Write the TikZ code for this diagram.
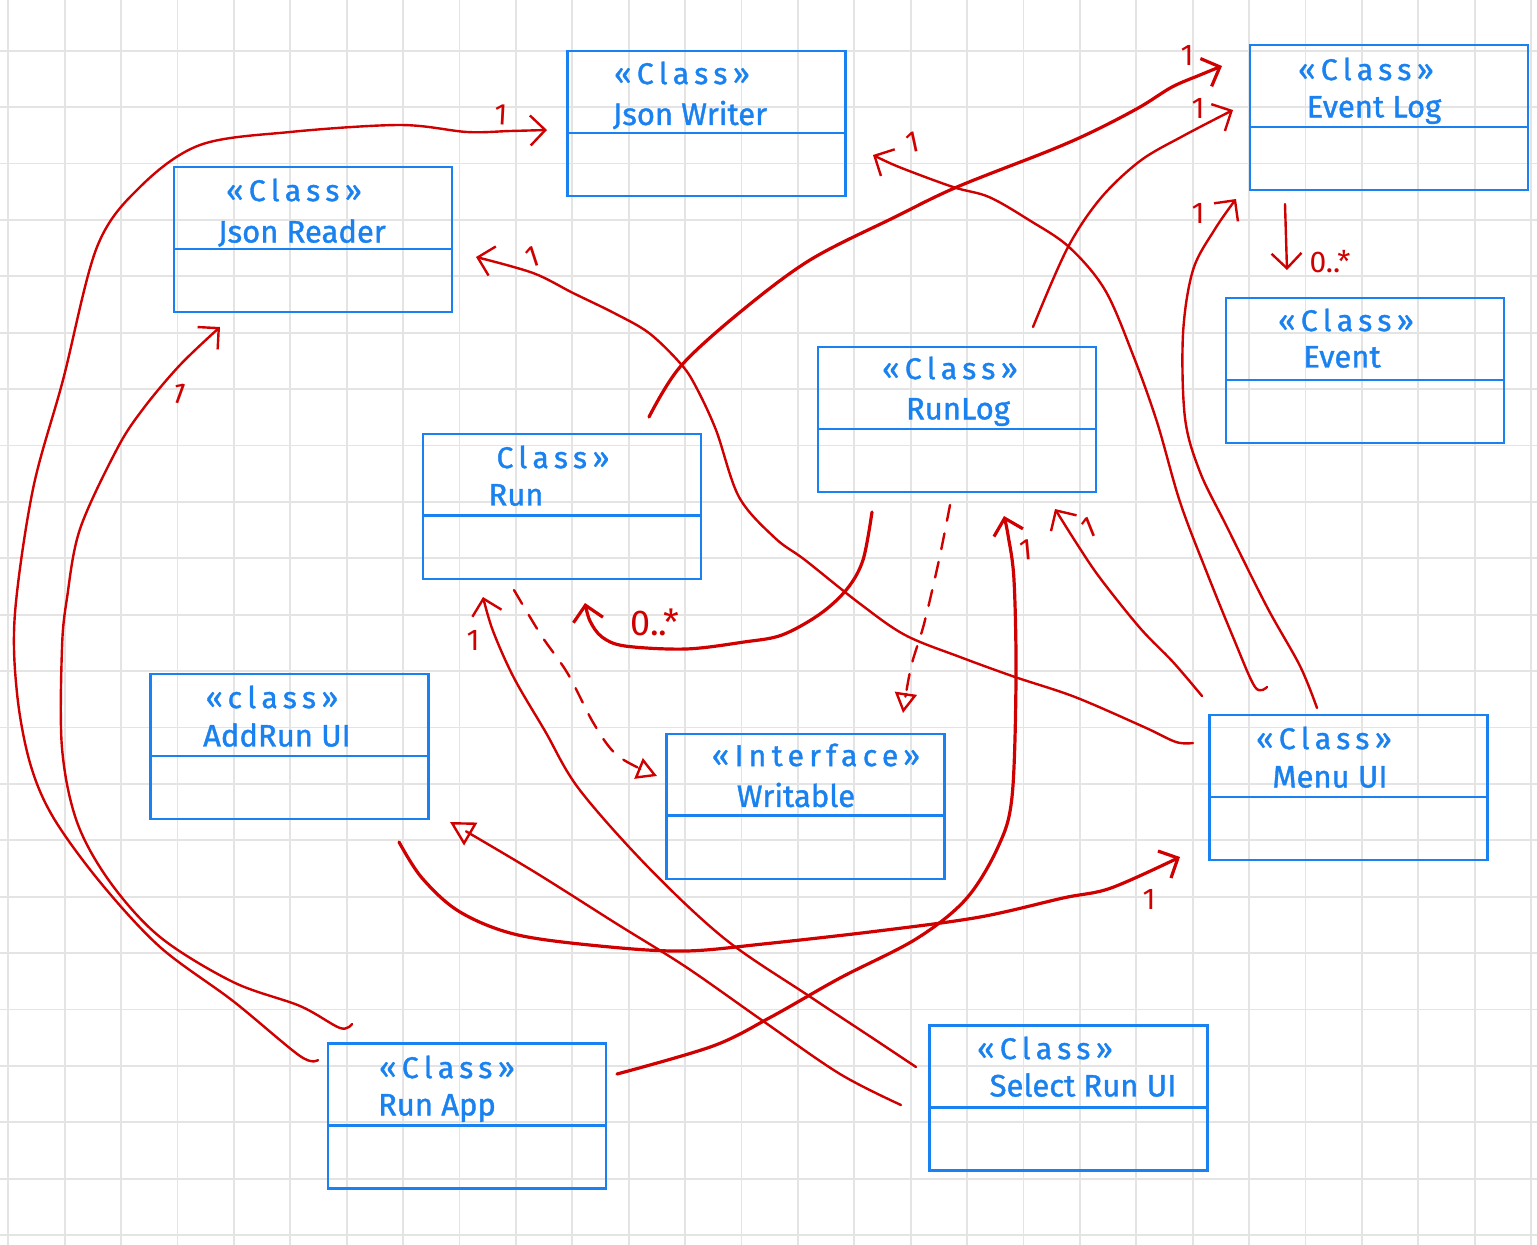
\documentclass[tikz,border=0pt]{standalone}
\usepackage{fontspec}
\setmainfont{Fira Sans}
\newfontfamily\namefont[FakeBold=1.2]{Fira Sans}
\newfontfamily\stereofont[LetterSpace=18,FakeBold=1.2]{Fira Sans}
\usetikzlibrary{arrows.meta}
\definecolor{inkblue}{RGB}{25,130,240}
\definecolor{inkred}{RGB}{208,0,0}
\definecolor{gridgray}{RGB}{228,228,228}
\tikzset{
  umlbox/.style={draw=inkblue, line width=2.4pt, minimum width=278pt, minimum height=145pt, inner sep=0pt},
  divider/.style={draw=inkblue, line width=2.4pt},
  stereo/.style={text=inkblue, font=\stereofont\fontsize{30}{34}\selectfont, inner sep=0pt},
  cname/.style={text=inkblue, font=\namefont\fontsize{31}{36}\selectfont, inner sep=0pt},
  link/.style={draw=inkred, line width=2.4pt, line cap=round, line join=round},
  heavy/.style={link, line width=3.2pt},
  barb/.style={-{Straight Barb[length=15pt,width=30pt]}},
  realize/.style={link, dash pattern=on 16pt off 13pt, -{Triangle[open,length=20pt,width=22pt]}},
  general/.style={link, -{Triangle[open,length=24pt,width=26pt]}},
  one/.style={text=inkred, font=\fontsize{30}{36}\selectfont, inner sep=0pt},
  mult/.style={text=inkred, font=\fontsize{30}{36}\selectfont, inner sep=0pt},
  gridline/.style={draw=gridgray, line width=1.8pt}
}
\begin{document}
\begin{tikzpicture}[x=1pt,y=-1pt]
\useasboundingbox (0,0) rectangle (1537,1245);
\fill[white] (0,0) rectangle (1537,1245);
\foreach \i in {0,...,27} \draw[gridline] ({8.3+56.4*\i},0) -- ({8.3+56.4*\i},1245);
\foreach \j in {0,...,21} \draw[gridline] (0,{50.7+56.4*\j}) -- (1537,{50.7+56.4*\j});

% ---------- class boxes ----------
\node[umlbox] (jw)  at (706.5,123.4) {};
\node[umlbox] (jr)  at (313,239.5) {};
\node[umlbox] (el)  at (1388.8,117.5) {};
\node[umlbox] (ev)  at (1365,370.5) {};
\node[umlbox] (rl)  at (957,419.7) {};
\node[umlbox] (run) at (561.7,506.2) {};
\node[umlbox] (ar)  at (289.3,746.5) {};
\node[umlbox] (wr)  at (805.3,806.3) {};
\node[umlbox] (mu)  at (1348.5,787.5) {};
\node[umlbox] (ra)  at (467.2,1116) {};
\node[umlbox] (sr)  at (1068.5,1098) {};
\foreach \b in {jw,jr,el,ev,rl,run,ar,wr,mu,ra,sr}
  \draw[divider] ([yshift=-83pt]\b.north west) -- ([yshift=-83pt]\b.north east);

% ---------- texts ----------
\node[stereo] (jwS) at (682,73) {«Class»};
\node[cname]  (jwN) at (690,115) {Json Writer};
\node[stereo] (jrS) at (294,190) {«Class»};
\node[cname]  (jrN) at (302,233) {Json Reader};
\node[stereo] (elS) at (1366,69) {«Class»};
\node[cname]  (elN) at (1374,110) {Event Log};
\node[stereo] (evS) at (1346,320) {«Class»};
\node[cname]  (evN) at (1342,357) {Event};
\node[stereo] (rlS) at (950,368) {«Class»};
\node[cname]  (rlN) at (958,412) {RunLog};
\node[stereo] (runS) at (553,457) {Class»};
\node[cname]  (runN) at (516,495) {Run};
\node[stereo] (arS) at (272,697) {«class»};
\node[cname]  (arN) at (277,735) {AddRun UI};
\node[stereo] (wrS) at (816,755) {«Interface»};
\node[cname]  (wrN) at (796,795) {Writable};
\node[stereo] (muS) at (1324,738) {«Class»};
\node[cname]  (muN) at (1330,777) {Menu UI};
\node[stereo] (raS) at (447,1067) {«Class»};
\node[cname]  (raN) at (437,1108) {Run App};
\node[stereo] (srS) at (1045,1048) {«Class»};
\node[cname]  (srN) at (1083,1085) {Select Run UI};

% ---------- connector end points ----------
\coordinate (raJwS) at (318,1060);  \coordinate (raJwE) at (547,130);
\coordinate (raJrS) at (352,1024);  \coordinate (raJrE) at (220,327);
\coordinate (arMuS) at (399,842);   \coordinate (arMuE) at (1180,857);
\coordinate (raRlS) at (617,1074);  \coordinate (raRlE) at (1004,516);
\coordinate (srRunS) at (916,1067); \coordinate (srRunE) at (483,597);
\coordinate (srArS) at (901,1105);  \coordinate (srArE) at (450,822);
\coordinate (runWrS) at (514,590);  \coordinate (runWrE) at (657,776);
\coordinate (rlWrS) at (950,505);   \coordinate (rlWrE) at (903,713);
\coordinate (rlRunS) at (872,512);  \coordinate (rlRunE) at (585,603);
\coordinate (runElS) at (649,417);  \coordinate (runElE) at (1222,66);
\coordinate (rlElS) at (1033,327);  \coordinate (rlElE) at (1233,110);
\coordinate (muElS) at (1317,708);  \coordinate (muElE) at (1236,199);
\coordinate (muJwS) at (1267,687);  \coordinate (muJwE) at (873,155);
\coordinate (muJrS) at (1193,743);  \coordinate (muJrE) at (476,257);
\coordinate (muRlS) at (1202,696);  \coordinate (muRlE) at (1055,509);
\coordinate (elEvS) at (1285,204);  \coordinate (elEvE) at (1287,270);

% ---------- connectors ----------
% Run App -> Json Writer
\draw[link,barb] plot[smooth,tension=0.55] coordinates {(raJwS) (300,1056) (233,1001) (160,947) (100,882) (53,817) (30,763) (17,693) (15,613) (33,489) (63,380) (97,247) (140,187) (200,145) (290,132) (400,125) (467,132) (510,131) (raJwE)};
% Run App -> Json Reader
\draw[link,barb] plot[smooth,tension=0.55] coordinates {(raJrS) (340,1028) (300,1006) (233,982) (160,937) (110,882) (77,822) (62,748) (62,648) (67,598) (80,529) (117,449) (143,409) (180,365) (raJrE)};
% Add Run UI -> Menu UI
\draw[heavy,barb] plot[smooth,tension=0.55] coordinates {(arMuS) (422,878) (460,912) (518,935) (610,947) (686,951) (763,944) (878,931) (980,917) (1063,898) (1111,888) (arMuE)};
% Run App -> Run Log
\draw[heavy,barb] plot[smooth,tension=0.55] coordinates {(raRlS) (713,1046) (771,1017) (840,978) (916,939) (966,899) (998,847) (1012,797) (1016,680) (1014,580) (1008,535) (raRlE)};
% Select Run UI -> Run
\draw[link,barb] plot[smooth,tension=0.55] coordinates {(srRunS) (874,1039) (809,996) (725,939) (648,867) (579,789) (545,731) (514,678) (493,631) (srRunE)};
% Select Run UI -> Add Run UI (generalization)
\draw[general] plot[smooth,tension=0.55] coordinates {(srArS) (840,1074) (763,1021) (686,967) (617,924) (533,871) (srArE)};
% Run ..> Writable
\draw[realize] plot[smooth,tension=0.55] coordinates {(runWrS) (541,635) (568,674) (594,724) (618,756) (runWrE)};
% Run Log ..> Writable
\draw[realize] plot[smooth,tension=0.55] coordinates {(rlWrS) (939,560) (924,624) (911,667) (rlWrE)};
% Run Log -> Run (0..*)
\draw[heavy,barb] plot[smooth,tension=0.55] coordinates {(rlRunS) (863,560) (847,589) (820,614) (782,635) (744,642) (686,649) (625,646) (602,637) (590,621) (rlRunE)};
% Run -> Event Log
\draw[heavy,barb] plot[smooth,tension=0.55] coordinates {(runElS) (680,367) (739,313) (810,260) (895,217) (957,187) (1051,150) (1096,130) (1140,107) (1172,87) (1200,75) (runElE)};
% Run Log -> Event Log
\draw[link,barb] plot[smooth,tension=0.55] coordinates {(rlElS) (1067,249) (1100,199) (1140,161) (1183,136) (rlElE)};
% Menu UI -> Event Log
\draw[link,barb] plot[smooth,tension=0.55] coordinates {(muElS) (1300,666) (1267,607) (1227,527) (1200,472) (1185,418) (1183,334) (1193,270) (1215,229) (muElE)};
% Menu UI -> Json Writer
\draw[link,barb] plot[smooth,tension=0.55] coordinates {(muJwS) (1255,687) (1233,637) (1207,573) (1180,502) (1157,422) (1133,355) (1105,290) (1069,247) (1029,220) (989,197) (953,187) (899,167) (muJwE)};
% Menu UI -> Json Reader
\draw[link,barb] plot[smooth,tension=0.55] coordinates {(muJrS) (1176,742) (1144,727) (1075,697) (1015,677) (960,657) (905,635) (859,603) (805,560) (775,538) (739,497) (716,430) (695,385) (680,363) (649,333) (614,313) (573,293) (533,273) (muJrE)};
% Menu UI -> Run Log
\draw[link,barb] plot[smooth,tension=0.55] coordinates {(muRlS) (1173,662) (1140,628) (1100,578) (1077,544) (muRlE)};
% Event Log -> Event (0..*)
\draw[link,barb] (elEvS) -- (elEvE);

% ---------- multiplicities ----------
\node[one,rotate=-3]  (m1)  at (501,115) {1};
\node[one,rotate=-20] (m2)  at (179,393) {1};
\node[one,rotate=18]  (m3)  at (533,257) {1};
\node[one,rotate=12]  (m4)  at (913,142) {1};
\node[one]            (m5)  at (1187,55) {1};
\node[one]            (m6)  at (1198,108) {1};
\node[one]            (m7)  at (1198,213) {1};
\node[one,rotate=5]   (m8)  at (1026,550) {1};
\node[one,rotate=22]  (m9)  at (1089,528) {1};
\node[one]            (m10) at (473,640) {1};
\node[one]            (m11) at (1149,899) {1};
\node[mult,font=\fontsize{36}{40}\selectfont] (m12) at (655,622) {0..*};
\node[mult] (m13) at (1330,262) {0..*};
\end{tikzpicture}
\end{document}
